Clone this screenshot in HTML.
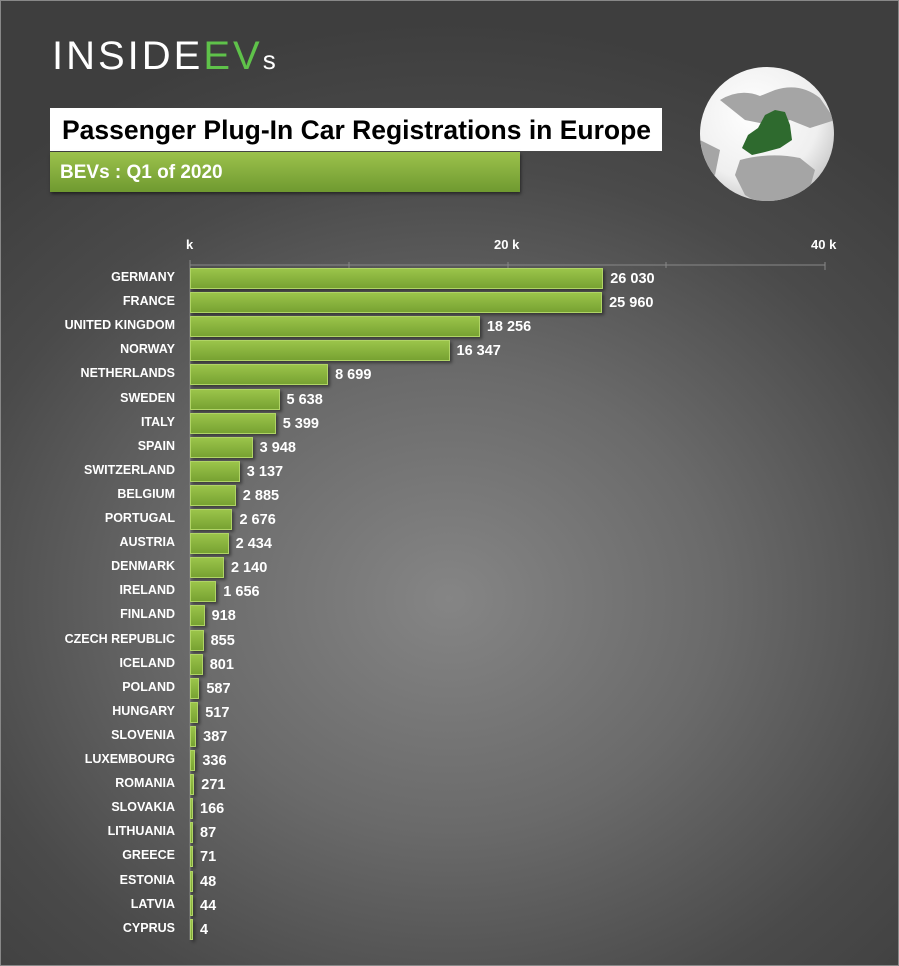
<!DOCTYPE html>
<html><head><meta charset="utf-8"><style>
body{margin:0;width:899px;height:966px;overflow:hidden;font-family:"Liberation Sans",sans-serif}
#bg{position:absolute;left:0;top:0;width:897px;height:964px;border:1px solid #888;background:radial-gradient(ellipse 75% 60% at 50% 62%,#858585 0%,#6a6a6a 40%,#4a4a4a 75%,#3e3e3e 100%)}
.logo{position:absolute;left:52px;top:34px;font-size:40px;letter-spacing:3px;color:#fff;font-weight:normal}
.logo span{color:#5fc24a}
.logo small{font-size:26px;color:#fff;letter-spacing:0}
.title{position:absolute;left:50px;top:108px;width:612px;height:43px;background:#fff;color:#000;font-weight:bold;font-size:26.5px;line-height:45px;text-indent:12px;white-space:nowrap}
.sub{position:absolute;left:50px;top:152px;width:470px;height:40px;background:linear-gradient(#9cc24c,#6f9a30);color:#fff;font-weight:bold;font-size:19px;line-height:42px;text-indent:10px;box-shadow:1px 2px 3px rgba(0,0,0,.5)}
.lab{position:absolute;right:724px;font-size:12.5px;font-weight:bold;color:#fff;text-align:right;white-space:nowrap}
.bar{position:absolute;left:190px;height:21px;background:linear-gradient(#9bc44a,#77a232);border:1px solid #b0d466;box-sizing:border-box;box-shadow:2px 2px 3px rgba(0,0,0,.45)}
.val{position:absolute;font-size:14.5px;font-weight:bold;color:#fff;white-space:nowrap}
.tk{position:absolute;font-size:13px;font-weight:bold;color:#fff}
</style></head><body><div id="bg"></div>
<div class="logo">INSIDE<span>EV</span><small>s</small></div>
<div class="title">Passenger Plug-In Car Registrations in Europe</div>
<div class="sub">BEVs : Q1 of 2020</div>
<svg style="position:absolute;left:0;top:0" width="899" height="966">
<defs><radialGradient id="g" cx="40%" cy="35%" r="70%"><stop offset="0" stop-color="#fff"/><stop offset=".7" stop-color="#efefef"/><stop offset="1" stop-color="#c8c8c8"/></radialGradient>
<clipPath id="cp"><circle cx="767" cy="134" r="67"/></clipPath></defs>
<circle cx="767" cy="134" r="67" fill="url(#g)"/>
<g clip-path="url(#cp)" fill="#a5a5a5">
<path d="M720 100 Q740 88 760 96 L775 90 Q800 82 820 98 L835 120 L810 128 L790 120 L770 125 L745 120 Z"/>
<path d="M740 160 Q770 152 800 158 L815 170 L805 205 L770 210 L745 195 L735 175 Z"/>
<path d="M700 140 L720 150 L715 175 L700 170 Z"/>
</g>
<path d="M742 148 L748 135 L758 128 L765 115 L775 110 L785 112 L790 125 L792 140 L780 148 L765 152 L752 155 Z" fill="#2e6a2e"/>
<line x1="190" y1="265" x2="825" y2="265" stroke="#888"/>
<line x1="190" y1="260" x2="190" y2="940" stroke="#888"/>
<line x1="349" y1="262" x2="349" y2="268" stroke="#888"/>
<line x1="508" y1="262" x2="508" y2="270" stroke="#888"/>
<line x1="666" y1="262" x2="666" y2="268" stroke="#888"/>
<line x1="825" y1="262" x2="825" y2="270" stroke="#888"/>
</svg>
<div class="tk" style="left:186px;top:237px">k</div>
<div class="tk" style="left:494px;top:237px">20 k</div>
<div class="tk" style="left:811px;top:237px">40 k</div>
<div id="c"></div>
<script>
var d=[["GERMANY",26030],["FRANCE",25960],["UNITED KINGDOM",18256],["NORWAY",16347],["NETHERLANDS",8699],["SWEDEN",5638],["ITALY",5399],["SPAIN",3948],["SWITZERLAND",3137],["BELGIUM",2885],["PORTUGAL",2676],["AUSTRIA",2434],["DENMARK",2140],["IRELAND",1656],["FINLAND",918],["CZECH REPUBLIC",855],["ICELAND",801],["POLAND",587],["HUNGARY",517],["SLOVENIA",387],["LUXEMBOURG",336],["ROMANIA",271],["SLOVAKIA",166],["LITHUANIA",87],["GREECE",71],["ESTONIA",48],["LATVIA",44],["CYPRUS",4]];
var h="";d.forEach(function(r,i){var top=268+i*24.1;var w=Math.max(3,r[1]/1000*15.875);
var v=String(r[1]).replace(/\B(?=(\d{3})+(?!\d))/g," ");
h+='<div class="lab" style="top:'+(top+2)+'px">'+r[0]+'</div><div class="bar" style="top:'+top+'px;width:'+w+'px"></div><div class="val" style="top:'+(top+3)+'px;left:'+(190+w+7)+'px">'+v+'</div>';});
document.getElementById("c").innerHTML=h;
</script>
</body></html>
